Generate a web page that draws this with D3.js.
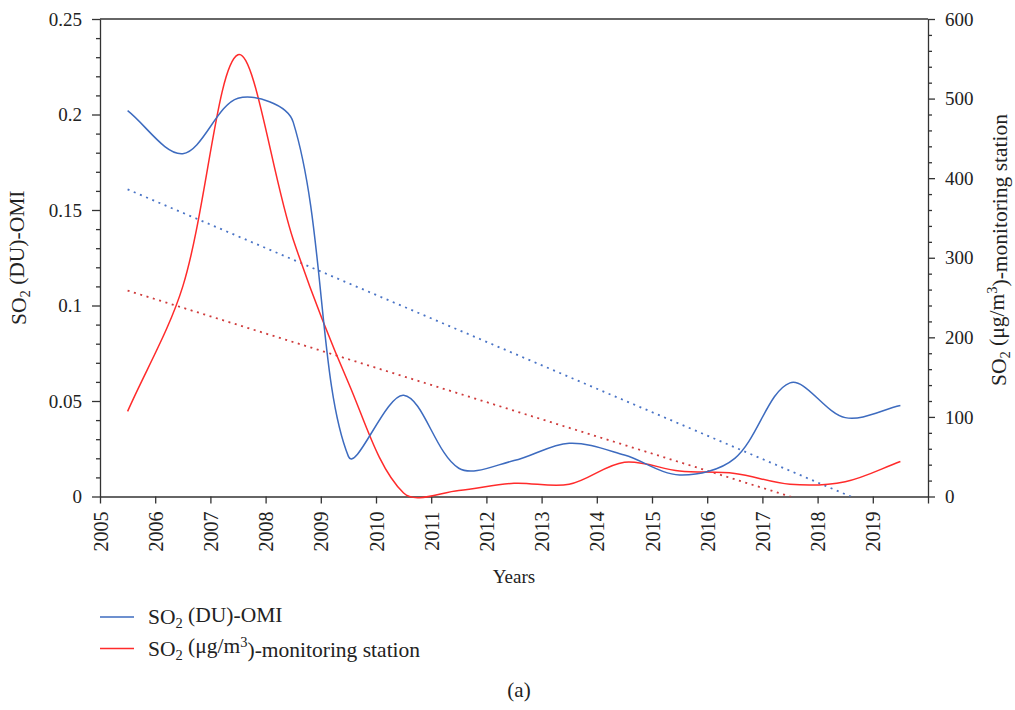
<!DOCTYPE html>
<html>
<head>
<meta charset="utf-8">
<script src="https://cdn.jsdelivr.net/npm/d3@7/dist/d3.min.js"></script>
<style>
  html, body { margin: 0; padding: 0; background: #fff; }
</style>
</head>
<body>
<svg id="chart" width="1015" height="710"></svg>
<script>
// Annual means, plotted at mid-year
const years = [2005.5, 2006.5, 2007.5, 2008.5, 2009.5, 2010.5, 2011.5, 2012.5,
               2013.5, 2014.5, 2015.5, 2016.5, 2017.5, 2018.5, 2019.5];
// SO2 column from OMI (DU)
const omiDU = [0.202, 0.1795, 0.2085, 0.196, 0.021, 0.0530, 0.0148, 0.0188,
               0.0279, 0.0217, 0.0113, 0.020, 0.0595, 0.0413, 0.0476];
// SO2 from the ground monitoring station (µg/m3)
const stationUg = [107, 264, 555, 323, 143, 4.3, 7.6, 16.6,
                   15.3, 43, 32, 29, 15.3, 18.6, 44];

const xTicks = [2005, 2006, 2007, 2008, 2009, 2010, 2011, 2012, 2013, 2014,
                2015, 2016, 2017, 2018, 2019, 2020];
const xTickLabels = ["2005", "2006", "2007", "2008", "2009", "2010", "2011", "2012",
                     "2013", "2014", "2015", "2016", "2017", "2018", "2019", ""];
const leftTicks = [0, 0.05, 0.1, 0.15, 0.2, 0.25];
const leftTickLabels = ["0", "0.05", "0.1", "0.15", "0.2", "0.25"];
const rightTicks = [0, 100, 200, 300, 400, 500, 600];

const FONT = "'Liberation Serif', 'DejaVu Serif', serif";
const INK = "#222";
const AXIS = "#333";
const TITLE_PX = 21.5, SMALL_PX = 14.5;

const svg = d3.select("#chart").attr("font-family", FONT);
const L = 100, R = 928, T = 19, B = 496.5;

const x = d3.scaleLinear().domain([2005, 2020]).range([L, R]);
const yL = d3.scaleLinear().domain([0, 0.25]).range([B, T]);
const yR = d3.scaleLinear().domain([0, 600]).range([B, T]);

const BLUE = "#3d6bbf", RED = "#ff2b2b";
const BLUE_DOT = "#4a74c6", RED_DOT = "#cf3b3b";

// plot-area clip for the fitted trend lines
svg.append("defs").append("clipPath").attr("id", "plotClip")
  .append("rect").attr("x", L).attr("y", T).attr("width", R - L).attr("height", B - T);

// least-squares linear fit
function linFit(xs, ys) {
  const mx = d3.mean(xs), my = d3.mean(ys);
  let sxy = 0, sxx = 0;
  xs.forEach((v, i) => { sxy += (v - mx) * (ys[i] - my); sxx += (v - mx) ** 2; });
  const b = sxy / sxx;
  return t => my + b * (t - mx);
}

// Smoothed line through screen points: cubic Bézier segments whose
// handles follow the neighbour chord, split by the adjacent segment lengths.
function smoothPath(pts, k = 1 / 3) {
  const n = pts.length;
  const handles = pts.map((p, i) => {
    const a = pts[Math.max(i - 1, 0)], b = pts[Math.min(i + 1, n - 1)];
    const d0 = Math.hypot(p[0] - a[0], p[1] - a[1]);
    const d1 = Math.hypot(b[0] - p[0], b[1] - p[1]);
    const s = (d0 + d1) || 1;
    const dx = b[0] - a[0], dy = b[1] - a[1];
    const fi = k * d0 / s, fo = k * d1 / s;
    return { inn: [p[0] - fi * dx, p[1] - fi * dy], out: [p[0] + fo * dx, p[1] + fo * dy] };
  });
  const path = d3.path();
  path.moveTo(pts[0][0], pts[0][1]);
  for (let i = 1; i < n; i++) {
    const c1 = handles[i - 1].out, c2 = handles[i].inn;
    path.bezierCurveTo(c1[0], c1[1], c2[0], c2[1], pts[i][0], pts[i][1]);
  }
  return path.toString();
}

function styleAxis(g, size) {
  g.attr("font-family", FONT);
  g.selectAll("line, path").attr("stroke", AXIS).attr("stroke-width", 1.3);
  g.selectAll("text").attr("fill", INK).style("font-size", size + "px");
}

// minor ticks
const leftMinor = d3.range(0, 0.2501, 0.01).filter(v => !leftTicks.some(t => Math.abs(t - v) < 1e-9));
const rightMinor = d3.range(0, 600.1, 20).filter(v => v % 100 !== 0);

// top frame line
svg.append("line").attr("x1", L).attr("x2", R).attr("y1", T).attr("y2", T)
  .attr("stroke", AXIS).attr("stroke-width", 1.3);

// left axis
svg.append("g").attr("transform", `translate(${L},0)`)
  .call(d3.axisLeft(yL).tickValues(leftMinor).tickSize(4).tickFormat(""))
  .call(g => g.select(".domain").remove())
  .call(g => styleAxis(g, 19));
svg.append("g").attr("transform", `translate(${L},0)`)
  .call(d3.axisLeft(yL).tickValues(leftTicks).tickSize(8).tickPadding(10)
        .tickFormat((d, i) => leftTickLabels[i]).tickSizeOuter(0))
  .call(g => styleAxis(g, 19));

// right axis
svg.append("g").attr("transform", `translate(${R},0)`)
  .call(d3.axisRight(yR).tickValues(rightMinor).tickSize(4).tickFormat(""))
  .call(g => g.select(".domain").remove())
  .call(g => styleAxis(g, 19));
svg.append("g").attr("transform", `translate(${R},0)`)
  .call(d3.axisRight(yR).tickValues(rightTicks).tickSize(7).tickPadding(10)
        .tickFormat(d3.format("d")).tickSizeOuter(0))
  .call(g => styleAxis(g, 19));

// bottom axis with vertical year labels
svg.append("g").attr("transform", `translate(0,${B})`)
  .call(d3.axisBottom(x).tickValues(xTicks).tickSize(7).tickSizeOuter(0)
        .tickFormat((d, i) => xTickLabels[i]))
  .call(g => styleAxis(g, 20))
  .call(g => g.selectAll("text")
    .attr("transform", "rotate(-90)")
    .attr("text-anchor", "end")
    .attr("x", -15).attr("y", 0).attr("dy", "0.35em"));

// trend lines (dotted)
const fitBlue = linFit(years, omiDU);
const fitRed = linFit(years, stationUg);
const trendX = [years[0], years[years.length - 1]];
const gTrend = svg.append("g").attr("clip-path", "url(#plotClip)");
gTrend.append("path")
  .attr("d", d3.line().x(d => x(d)).y(d => yL(fitBlue(d)))(trendX))
  .attr("fill", "none").attr("stroke", BLUE_DOT).attr("stroke-width", 1.8)
  .attr("stroke-dasharray", "2,4.7");
gTrend.append("path")
  .attr("d", d3.line().x(d => x(d)).y(d => yR(fitRed(d)))(trendX))
  .attr("fill", "none").attr("stroke", RED_DOT).attr("stroke-width", 1.8)
  .attr("stroke-dasharray", "2,4.6");

// smoothed series
const redPts = stationUg.map((v, i) => [x(years[i]), yR(v)]);
const bluePts = omiDU.map((v, i) => [x(years[i]), yL(v)]);
svg.append("path").attr("d", smoothPath(redPts))
  .attr("fill", "none").attr("stroke", RED).attr("stroke-width", 1.5);
svg.append("path").attr("d", smoothPath(bluePts))
  .attr("fill", "none").attr("stroke", BLUE).attr("stroke-width", 1.5);

// text with sub/superscript pieces: kind 0 normal, 1 subscript, 2 superscript
function richText(sel, parts, smallSize) {
  let shift = 0;
  parts.forEach(([s, kind]) => {
    const target = kind === 1 ? 0.3 : kind === 2 ? -0.45 : 0;
    const sp = sel.append("tspan").text(s);
    const dy = target - shift;
    if (dy !== 0) sp.attr("dy", dy + "em");
    if (kind) sp.style("font-size", smallSize + "px");
    shift = target;
  });
}

const omiLabel = [["SO", 0], ["2", 1], [" (DU)-OMI", 0]];
const stationLabel = [["SO", 0], ["2", 1], [" (μg/m", 0], ["3", 2], [")-monitoring station", 0]];

// axis titles
richText(svg.append("text")
  .attr("transform", `translate(26,${(T + B) / 2}) rotate(-90)`)
  .attr("text-anchor", "middle").style("font-size", TITLE_PX + "px").attr("fill", INK),
  omiLabel, SMALL_PX);

richText(svg.append("text")
  .attr("transform", `translate(1006,250) rotate(-90)`)
  .attr("text-anchor", "middle").style("font-size", TITLE_PX + "px").attr("fill", INK),
  stationLabel, SMALL_PX);

svg.append("text").attr("x", (L + R) / 2).attr("y", 583)
  .attr("text-anchor", "middle").style("font-size", "19px").attr("fill", INK).text("Years");

// legend
const legendItems = [
  { color: BLUE, y: 617, parts: omiLabel },
  { color: RED, y: 648.5, parts: stationLabel }
];
legendItems.forEach(item => {
  svg.append("line").attr("x1", 100).attr("x2", 134).attr("y1", item.y).attr("y2", item.y)
    .attr("stroke", item.color).attr("stroke-width", 1.5);
  richText(svg.append("text").attr("x", 148).attr("y", item.y + 7)
    .style("font-size", TITLE_PX + "px").attr("fill", INK), item.parts, SMALL_PX);
});

svg.append("text").attr("x", 519).attr("y", 697).attr("text-anchor", "middle")
  .style("font-size", "21px").attr("fill", INK).text("(a)");
</script>
</body>
</html>
